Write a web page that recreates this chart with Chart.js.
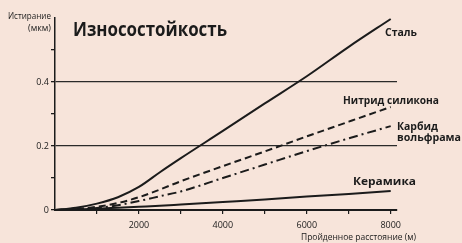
<!DOCTYPE html>
<html>
<head>
<meta charset="utf-8">
<script src="https://cdn.jsdelivr.net/npm/chart.js@4/dist/chart.umd.min.js"></script>
<style>
  html, body { margin: 0; padding: 0; background: #f7e4da; }
  canvas { display: block; }
</style>
</head>
<body>
<canvas id="wear" width="462" height="243"></canvas>
<script>
// пройденное расстояние, м
const distance = [0, 500, 1000, 1500, 2000, 2500, 3000, 4000, 5000, 6000, 7000, 8000];
// истирание, мкм
const steel   = [0, 0.007, 0.02, 0.04, 0.072, 0.118, 0.162, 0.247, 0.333, 0.418, 0.51, 0.597];
const nitride = [0, 0.003, 0.01, 0.022, 0.04, 0.064, 0.09, 0.137, 0.183, 0.23, 0.276, 0.322];
const carbide = [0, 0.002, 0.006, 0.015, 0.028, 0.043, 0.058, 0.1, 0.142, 0.184, 0.224, 0.262];
const ceramic = [0, 0.002, 0.004, 0.007, 0.01, 0.013, 0.017, 0.025, 0.033, 0.042, 0.05, 0.059];
const seriesNames = ['Сталь', 'Нитрид силикона', 'Карбид вольфрама', 'Керамика'];
const xTicks = [1000, 2000, 3000, 4000, 5000, 6000, 7000, 8000];
const xLabels = [2000, 4000, 6000, 8000];
const yTicks = [0, 0.1, 0.2, 0.3, 0.4, 0.5];
const yLabels = [0, 0.2, 0.4];

const ink = '#1b1b1b';
const pts = arr => arr.map((v, i) => ({x: distance[i], y: v}));

// текст, сжатый по ширине (шрифт узкий как в оригинале)
function fitText(ctx, txt, x, y, w, font) {
   ctx.font = font;
   const m = ctx.measureText(txt).width;
   ctx.save();
   ctx.translate(x, y);
   ctx.scale(w / m, 1);
   ctx.textAlign = 'left';
   ctx.textBaseline = 'alphabetic';
   ctx.fillText(txt, 0, 0);
   ctx.restore();
}

const textPlugin = {
   id: 'texts',
   beforeDraw(chart) {
      const c = chart.ctx;
      c.save();
      c.fillStyle = '#f7e4da';
      c.fillRect(0, 0, chart.width, chart.height);
      c.restore();
   },
   afterDraw(chart) {
      const c = chart.ctx;
      c.save();
      c.fillStyle = ink;
      fitText(c, 'Износостойкость', 73, 36, 154, 'bold 20px "Open Sans"');
      fitText(c, 'Истирание', 8, 19, 43, '9px "Open Sans"');
      fitText(c, '(мкм)', 28, 31, 23, '9px "Open Sans"');
      fitText(c, 'Пройденное расстояние (м)', 301, 240, 115, '9px "Open Sans"');
      fitText(c, seriesNames[0], 385, 36, 32, 'bold 11px "Open Sans"');
      fitText(c, seriesNames[1], 343, 104, 96, 'bold 11px "Open Sans"');
      fitText(c, 'Карбид', 397, 130, 41, 'bold 11px "Open Sans"');
      fitText(c, 'вольфрама', 397, 141, 64, 'bold 11px "Open Sans"');
      fitText(c, seriesNames[3], 353, 185, 63, 'bold 11px "Open Sans"');
      c.restore();
   }
};

const near = (v, list) => list.some(t => Math.abs(v - t) < 1e-6);

new Chart(document.getElementById('wear'), {
   type: 'line',
   data: {
      datasets: [
         {label: seriesNames[0], data: pts(steel), borderColor: ink, borderWidth: 2},
         {label: seriesNames[1], data: pts(nitride), borderColor: ink, borderWidth: 2, borderDash: [7, 4]},
         {label: seriesNames[2], data: pts(carbide), borderColor: ink, borderWidth: 2, borderDash: [9, 4, 2, 4]},
         {label: seriesNames[3], data: pts(ceramic), borderColor: ink, borderWidth: 2}
      ]
   },
   options: {
      responsive: false,
      animation: false,
      layout: {padding: {top: 18, right: 65, left: 0, bottom: 0}},
      elements: {point: {radius: 0}, line: {cubicInterpolationMode: 'monotone', fill: false}},
      plugins: {legend: {display: false}, tooltip: {enabled: false}},
      scales: {
         x: {
            type: 'linear',
            min: 0,
            max: 8150,
            afterBuildTicks(s) { s.ticks = xTicks.map(v => ({value: v})); },
            afterFit(s) { s.height = 33; },
            border: {display: true, color: ink, width: 2},
            grid: {drawOnChartArea: false, tickColor: ink, tickLength: 4, lineWidth: 1.2},
            ticks: {
               autoSkip: false,
               maxRotation: 0,
               padding: 6,
               color: ink,
               font: {family: 'Open Sans', size: 9},
               callback: v => near(v, xLabels) ? String(v) : ''
            }
         },
         y: {
            min: 0,
            max: 0.6,
            afterBuildTicks(s) { s.ticks = yTicks.map(v => ({value: v})); },
            afterFit(s) { s.width = 55; },
            border: {display: true, color: ink, width: 1.5},
            grid: {
               color: ctx => (ctx.tick && near(ctx.tick.value, [0.2, 0.4])) ? '#2a2a2a' : 'rgba(0,0,0,0)',
               tickColor: ink,
               tickLength: 4,
               lineWidth: 1.3
            },
            ticks: {
               autoSkip: false,
               padding: 2,
               color: ink,
               font: {family: 'Open Sans', size: 9},
               callback: v => near(v, yLabels) ? String(v) : ''
            }
         }
      }
   },
   plugins: [textPlugin]
});
</script>
</body>
</html>
